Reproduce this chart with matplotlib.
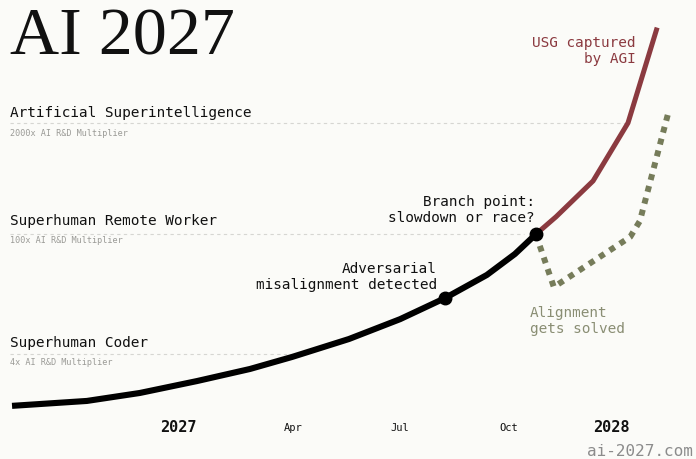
import matplotlib.pyplot as plt
import matplotlib.transforms as mtransforms

# months since Jan 2027, AI R&D multiplier (log scale)
main_months = [-4.61, -2.53, -1.06, 0.53, 2.0, 3.17, 4.75, 6.17, 7.42, 8.58, 9.36, 9.94]
main_mult = [0.99, 1.13, 1.40, 1.93, 2.67, 3.69, 5.98, 10.2, 18.0, 33.5, 58.9, 100]

race_months = [9.94, 10.5, 11.53, 12.5, 13.31]
race_mult = [100, 160, 420, 2000, 26000]

slow_months = [9.94, 10.44, 12.56, 12.83, 13.61]
slow_mult = [100, 24.2, 93, 143, 2540]

milestone_months = [7.42, 9.94]
milestone_mult = [18.0, 100]

levels = [4, 100, 2000]
level_names = ["Superhuman Coder", "Superhuman Remote Worker", "Artificial Superintelligence"]
level_subs = ["4x AI R&D Multiplier", "100x AI R&D Multiplier", "2000x AI R&D Multiplier"]
level_end = [3.2, 9.6, 12.45]

# label positions
tick_months = [0, 3.2, 6.17, 9.2, 12.03]
tick_labels = ["2027", "Apr", "Jul", "Oct", "2028"]

BG = "#fbfbf8"
RED = "#8b3a40"
OLIVE = "#767c5a"
MONO = "DejaVu Sans Mono"

fig = plt.figure(figsize=(6.96, 4.6), dpi=100, facecolor=BG)
ax = fig.add_axes([0, 0, 1, 1], facecolor=BG)
ax.set_yscale("log")
ax.set_xlim(-4.944, 14.389)
ax.set_ylim(0.237, 56100)
ax.set_axis_off()

# guide lines for capability levels
for lvl, end in zip(levels, level_end):
    ax.plot([-4.67, end], [lvl, lvl], color="#d6d6d2", lw=0.8, dashes=(3, 3), zorder=1)

ax.plot(slow_months, slow_mult, color=OLIVE, lw=4.3, dashes=(1, 1.05),
        solid_capstyle="butt", dash_capstyle="butt", zorder=2)
ax.plot(race_months, race_mult, color=RED, lw=3.6, solid_capstyle="butt",
        solid_joinstyle="round", zorder=3)
ax.plot(main_months, main_mult, color="black", lw=4.4, solid_capstyle="butt",
        solid_joinstyle="round", zorder=4)
ax.plot(milestone_months, milestone_mult, "o", color="black", ms=9, zorder=5)

W, H = 696, 460


def px(x, y):
    return x / W, 1 - y / H


fig.text(*px(10, 38), "AI 2027", family="Liberation Serif", fontsize=49,
         va="center", ha="left", color="#111111")

name_y = [343, 221, 113]
for yy, name, sub in zip(name_y, level_names, level_subs):
    fig.text(*px(10, yy), name, family=MONO, fontsize=10.4, va="center", color="#111111")
    fig.text(*px(10, yy + 20), sub, family=MONO, fontsize=6.1, va="center", color="#9a9a96")

fig.text(*px(535, 210), "Branch point:\nslowdown or race?", family=MONO, fontsize=10.4,
         ha="right", va="center", color="#111111", linespacing=1.15)
fig.text(*px(437, 277), "Adversarial\nmisalignment detected", family=MONO, fontsize=10.4,
         ha="right", va="center", color="#111111", linespacing=1.15)
fig.text(*px(636, 51), "USG captured\nby AGI", family=MONO, fontsize=10.4,
         ha="right", va="center", color=RED, linespacing=1.15)
fig.text(*px(530, 321), "Alignment\ngets solved", family=MONO, fontsize=10.4,
         ha="left", va="center", color="#8a8e74", linespacing=1.15)

trans = mtransforms.blended_transform_factory(ax.transData, ax.transAxes)
for m, lab in zip(tick_months, tick_labels):
    big = lab.isdigit()
    ax.text(m, 1 - 428 / H, lab, transform=trans, family=MONO, ha="center", va="center",
            fontsize=11 if big else 7.5, fontweight="bold" if big else "normal",
            color="#111111")

fig.text(*px(693, 452), "ai-2027.com", family=MONO, fontsize=11.5, ha="right",
         va="center", color="#8c8c8c")

fig.savefig("out.png", dpi=100, facecolor=BG)
